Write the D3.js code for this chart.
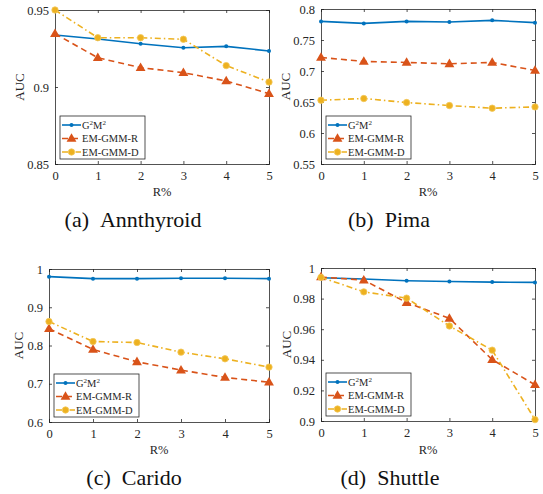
<!DOCTYPE html>
<html>
<head>
<meta charset="utf-8"/>
<script src="https://cdn.jsdelivr.net/npm/d3@7"></script>
<style>
  body { margin: 0; background: #fff; }
  text { font-family: "Liberation Serif", "Times New Roman", serif; }
</style>
</head>
<body>
<div id="chart"></div>
<script>
// x axis (R%) shared by all panels
var rValues = [0, 1, 2, 3, 4, 5];

// (a) Annthyroid
var annG2M2 = [0.9338, 0.9312, 0.9281, 0.9255, 0.9264, 0.9234];
var annEmR  = [0.9346, 0.9190, 0.9126, 0.9093, 0.9039, 0.8957];
var annEmD  = [0.9500, 0.9320, 0.9320, 0.9310, 0.9139, 0.9032];
var annTicks = [0.85, 0.9, 0.95];

// (b) Pima
var pimaG2M2 = [0.7800, 0.7768, 0.7800, 0.7790, 0.7817, 0.7780];
var pimaEmR  = [0.7219, 0.7154, 0.7138, 0.7116, 0.7138, 0.7009];
var pimaEmD  = [0.6529, 0.6556, 0.6491, 0.6443, 0.6400, 0.6421];
var pimaTicks = [0.55, 0.6, 0.65, 0.7, 0.75, 0.8];

// (c) Carido
var carG2M2 = [0.9800, 0.9748, 0.9748, 0.9757, 0.9757, 0.9748];
var carEmR  = [0.8440, 0.7896, 0.7574, 0.7357, 0.7165, 0.7040];
var carEmD  = [0.8626, 0.8104, 0.8078, 0.7826, 0.7652, 0.7435];
var carTicks = [0.6, 0.7, 0.8, 0.9, 1];

// (d) Shuttle
var shuG2M2 = [0.9936, 0.9928, 0.9917, 0.9912, 0.9908, 0.9906];
var shuEmR  = [0.9941, 0.9921, 0.9774, 0.9671, 0.9401, 0.9237];
var shuEmD  = [0.9939, 0.9844, 0.9803, 0.9621, 0.9463, 0.9009];
var shuTicks = [0.9, 0.92, 0.94, 0.96, 0.98, 1];

var seriesNames = ["G2M2", "EM-GMM-R", "EM-GMM-D"];
var colors = ["#0072BD", "#D95319", "#EDB120"];
var axisColor = "#262626";

var svg = d3.select("#chart").append("svg")
    .attr("width", 543).attr("height", 494);

var panels = [
  {left: 55, right: 269, top: 10, bottom: 164, ticks: annTicks, series: [annG2M2, annEmR, annEmD], caption: "(a)\u2002Annthyroid", capX: 133, capY: 227, labX: 162, labY: 196, aucX: 20},
  {left: 321, right: 535, top: 9, bottom: 164, ticks: pimaTicks, series: [pimaG2M2, pimaEmR, pimaEmD], caption: "(b)\u2002Pima", capX: 389, capY: 227, labX: 428, labY: 196, aucX: 286},
  {left: 49, right: 269, top: 269, bottom: 422, ticks: carTicks, series: [carG2M2, carEmR, carEmD], caption: "(c)\u2002Carido", capX: 134, capY: 485, labX: 159, labY: 454, aucX: 19},
  {left: 321, right: 535, top: 268, bottom: 421, ticks: shuTicks, series: [shuG2M2, shuEmR, shuEmD], caption: "(d)\u2002Shuttle", capX: 390, capY: 485, labX: 428, labY: 454, aucX: 287}
];

function fmt(v) { return String(+v.toFixed(2)); }

panels.forEach(function(p) {
    var x = d3.scaleLinear().domain([0, 5]).range([p.left, p.right]);
    var ticks = p.ticks;
    var y = d3.scaleLinear().domain([ticks[0], ticks[ticks.length - 1]]).range([p.bottom, p.top]);
    var g = svg.append("g");

    // clip so lines touching the edges get cut like matlab
    var clipId = "clip" + p.left + "_" + p.top;
    g.append("clipPath").attr("id", clipId).append("rect")
        .attr("x", p.left - 6).attr("y", p.top - 6)
        .attr("width", p.right - p.left + 12).attr("height", p.bottom - p.top + 12);

    // axes with inward ticks, on all four sides
    var tl = 3;
    g.append("g").attr("transform", "translate(0," + p.bottom + ")")
        .call(d3.axisBottom(x).tickValues(rValues).tickSize(-tl).tickPadding(7).tickFormat(d3.format("d")));
    g.append("g").attr("transform", "translate(0," + p.top + ")")
        .call(d3.axisTop(x).tickValues(rValues).tickSize(-tl).tickFormat(""));
    g.append("g").attr("transform", "translate(" + p.left + ",0)")
        .call(d3.axisLeft(y).tickValues(ticks).tickSize(-tl).tickPadding(6).tickFormat(fmt));
    g.append("g").attr("transform", "translate(" + p.right + ",0)")
        .call(d3.axisRight(y).tickValues(ticks).tickSize(-tl).tickFormat(""));
    g.selectAll(".domain").attr("stroke", axisColor).attr("stroke-width", 0.8);
    g.selectAll(".tick line").attr("stroke", axisColor).attr("stroke-width", 0.8);
    g.selectAll(".tick text").attr("fill", axisColor).style("font-size", "12.5px")
        .style("font-family", "Liberation Serif, serif");

    // axis titles
    g.append("text").attr("x", p.labX).attr("y", p.labY)
        .attr("text-anchor", "middle").attr("fill", axisColor).style("font-size", "12.5px").text("R%");
    g.append("text").attr("transform", "translate(" + (p.aucX + 4) + "," + ((p.top + p.bottom) / 2) + ") rotate(-90)")
        .attr("text-anchor", "middle").attr("fill", axisColor).style("font-size", "13px").text("AUC");

    // series
    var line = d3.line().x(function(d, i) { return x(rValues[i]); }).y(function(d) { return y(d); });
    var dashes = [null, "6,4", "6,3,1.5,3"];
    var plot = g.append("g").attr("clip-path", "url(#" + clipId + ")");
    p.series.forEach(function(vals, k) {
        plot.append("path").datum(vals).attr("d", line)
            .attr("fill", "none").attr("stroke", colors[k]).attr("stroke-width", 1.6)
            .attr("stroke-dasharray", dashes[k]);
        var pts = plot.selectAll(null).data(vals).enter();
        if (k === 0) {
            pts.append("circle").attr("cx", function(d, i) { return x(rValues[i]); })
                .attr("cy", function(d) { return y(d); }).attr("r", 2).attr("fill", colors[k]);
        } else if (k === 1) {
            pts.append("path").attr("d", d3.symbol(d3.symbolTriangle, 42))
                .attr("transform", function(d, i) { return "translate(" + x(rValues[i]) + "," + (y(d) + 0.5) + ")"; })
                .attr("fill", colors[k]);
        } else {
            pts.append("circle").attr("cx", function(d, i) { return x(rValues[i]); })
                .attr("cy", function(d) { return y(d); }).attr("r", 3.2)
                .attr("fill", colors[k]).attr("stroke", "#f3c85a").attr("stroke-width", 0.8);
        }
    });

    // legend box, lower left
    var lx = p.left + 5, ly = p.bottom - 48, lw = 85, lh = 43;
    var leg = g.append("g");
    leg.append("rect").attr("x", lx).attr("y", ly).attr("width", lw).attr("height", lh)
        .attr("fill", "#fff").attr("stroke", axisColor).attr("stroke-width", 0.8);
    seriesNames.forEach(function(name, k) {
        var ry = ly + 9 + k * 13.5;
        leg.append("line").attr("x1", lx + 2).attr("x2", lx + 21).attr("y1", ry).attr("y2", ry)
            .attr("stroke", colors[k]).attr("stroke-width", 1.6).attr("stroke-dasharray", dashes[k]);
        if (k === 0) {
            leg.append("circle").attr("cx", lx + 11.5).attr("cy", ry).attr("r", 2).attr("fill", colors[k]);
        } else if (k === 1) {
            leg.append("path").attr("d", d3.symbol(d3.symbolTriangle, 42))
                .attr("transform", "translate(" + (lx + 11.5) + "," + (ry + 0.5) + ")").attr("fill", colors[k]);
        } else {
            leg.append("circle").attr("cx", lx + 11.5).attr("cy", ry).attr("r", 3.2)
                .attr("fill", colors[k]).attr("stroke", "#f3c85a").attr("stroke-width", 0.8);
        }
        var t = leg.append("text").attr("x", lx + 22).attr("y", ry + 3.5)
            .attr("fill", axisColor).style("font-size", "10.5px");
        if (k === 0) {
            t.append("tspan").text("G");
            t.append("tspan").attr("dy", -4).style("font-size", "7px").text("2");
            t.append("tspan").attr("dy", 4).text("M");
            t.append("tspan").attr("dy", -4).style("font-size", "7px").text("2");
        } else {
            t.text(name);
        }
    });

    // caption
    svg.append("text").attr("x", p.capX).attr("y", p.capY).attr("text-anchor", "middle")
        .attr("fill", "#111").style("font-size", "22px").text(p.caption);
});
</script>
</body>
</html>
